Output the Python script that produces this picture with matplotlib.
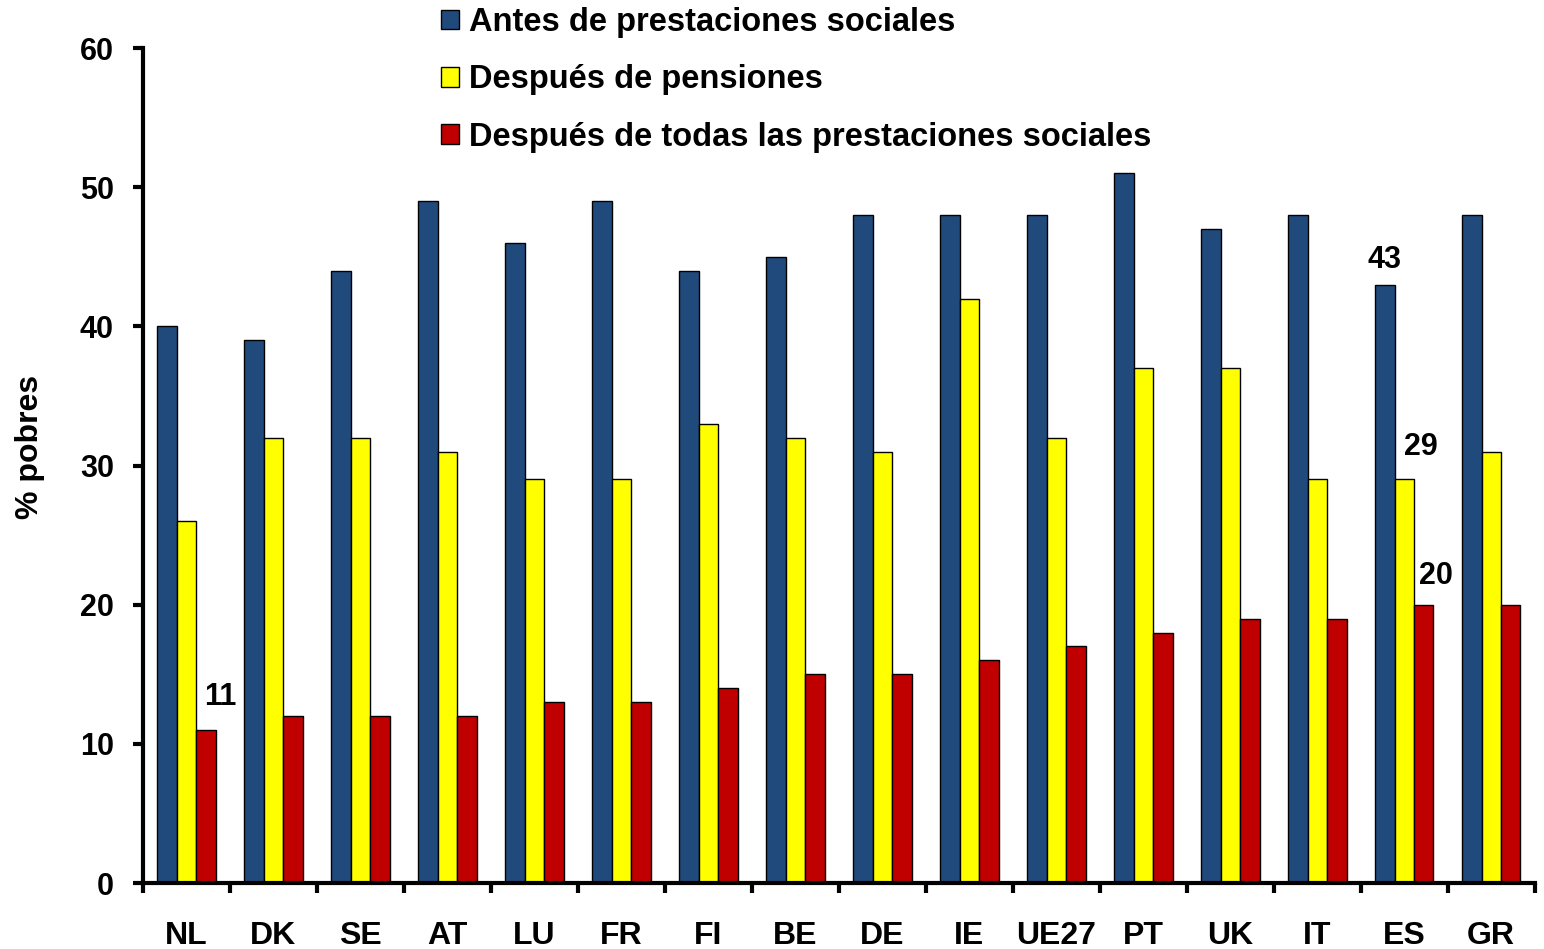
import numpy as np
import matplotlib.pyplot as plt
from matplotlib.ticker import FixedLocator, NullFormatter

plt.rcParams["font.family"] = ["Liberation Sans", "DejaVu Sans"]
plt.rcParams["font.weight"] = "bold"

paises = ["NL", "DK", "SE", "AT", "LU", "FR", "FI", "BE", "DE", "IE",
          "UE27", "PT", "UK", "IT", "ES", "GR"]
antes = [40, 39, 44, 49, 46, 49, 44, 45, 48, 48, 48, 51, 47, 48, 43, 48]
pensiones = [26, 32, 32, 31, 29, 29, 33, 32, 31, 42, 32, 37, 37, 29, 29, 31]
todas = [11, 12, 12, 12, 13, 13, 14, 15, 15, 16, 17, 18, 19, 19, 20, 20]
series_names = ["Antes de prestaciones sociales", "Después de pensiones",
                "Después de todas las prestaciones sociales"]
colores = ["#214A7C", "#FFFF00", "#C00000"]

# etiquetas de valor: (pais, serie)
etiquetas = [("NL", 2), ("ES", 0), ("ES", 1), ("ES", 2)]
offsets = {("NL", 2): (10, 24), ("ES", 0): (0, 18), ("ES", 1): (12, 23.5), ("ES", 2): (8.6, 21)}

fig = plt.figure(figsize=(15.44, 9.49), dpi=100)
ax = fig.add_axes([0.0926, 0.0695, 0.9014, 0.8799])

x = np.arange(len(paises))
w = 0.224
datos = [antes, pensiones, todas]
for i, (vals, col, nom) in enumerate(zip(datos, colores, series_names)):
    ax.bar(x + (i - 1) * w, vals, width=w, color=col, edgecolor="black",
           linewidth=1.0, label=nom, zorder=2)

for pais, s in etiquetas:
    k = paises.index(pais)
    v = datos[s][k]
    dx, dy = offsets[(pais, s)]
    ax.annotate(str(v), (x[k] + (s - 1) * w, v), xytext=(dx, dy),
                textcoords="offset points", ha="center", va="center",
                fontsize=22, fontweight="bold")

ax.set_xlim(-0.5, len(paises) - 0.5)
ax.set_ylim(0, 60)
ax.set_yticks(range(0, 61, 10))
ax.set_xticks(x)
ax.set_xticklabels(paises)
ax.xaxis.set_minor_locator(FixedLocator(np.arange(-0.5, len(paises), 1)))
ax.xaxis.set_minor_formatter(NullFormatter())
ax.tick_params(axis="x", which="major", length=0, pad=27.5, labelsize=23)
ax.tick_params(axis="x", which="minor", length=7, width=3, direction="out")
ax.tick_params(axis="y", length=7, width=3, direction="out", labelsize=22, pad=14)
for lab in ax.get_xticklabels() + ax.get_yticklabels():
    lab.set_fontweight("bold")

for sp in ["top", "right"]:
    ax.spines[sp].set_visible(False)
for sp in ["left", "bottom"]:
    ax.spines[sp].set_linewidth(3)

ax.set_ylabel("% pobres", fontsize=23, fontweight="bold")
ax.yaxis.set_label_coords(-0.0704, 0.522)

leg = fig.legend(loc="upper left", bbox_to_anchor=(0.2856, 0.9927), frameon=False,
                 prop={"size": 23.5, "weight": "bold"}, handlelength=0.55,
                 handleheight=0.55, handletextpad=0.3, labelspacing=0.81,
                 borderaxespad=0, borderpad=0)

fig.savefig("out.png", dpi=100)
